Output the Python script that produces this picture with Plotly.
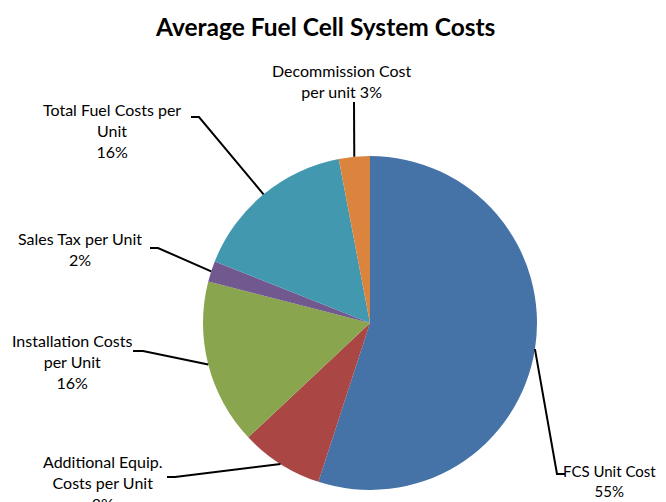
import math
import plotly.graph_objects as go

labels = ["FCS Unit Cost", "Additional Equip. Costs per Unit", "Installation Costs per Unit",
          "Sales Tax per Unit", "Total Fuel Costs per Unit", "Decommission Cost per unit"]
values = [55, 8, 16, 2, 16, 3]
colors = ["#4572A7", "#AA4643", "#89A54E", "#71588F", "#4198AF", "#DB843D"]
label_texts = ["FCS Unit Cost<br>55%", "Additional Equip.<br>Costs per Unit<br>8%",
               "Installation Costs<br>per Unit<br>16%", "Sales Tax per Unit<br>2%",
               "Total Fuel Costs per<br>Unit<br>16%", "Decommission Cost<br>per unit 3%"]

OFF = 8  # page body margin in the browser
W, H = 666 - OFF, 502 - OFF
CX, CY, R = 370, 323, 167

def px(x, y):
    return (x - OFF) / W, 1 - (y - OFF) / H

# label centre positions (window pixels) and leader elbow points
label_pos = [(609, 481), (102, 482), (72, 361), (80, 249), (112, 130), (342, 81)]
label_size = [15, 16, 16, 16, 16, 16]
elbows = [[(557, 474), (565, 474)],
          [(175, 477), (167, 477)],
          [(143, 351), (133, 351)],
          [(158, 248), (150, 248)],
          [(199, 117), (191, 117)],
          [(354, 102)]]

x0, y1 = px(CX - R, CY - R)
x1, y0 = px(CX + R, CY + R)
fig = go.Figure(go.Pie(
    labels=labels, values=values, sort=False, direction="clockwise", rotation=0,
    marker=dict(colors=colors, line=dict(color="white", width=0)),
    textinfo="none", hoverinfo="label+percent",
    domain=dict(x=[x0, x1], y=[y0, y1]),
    showlegend=False,
))

total = sum(values)
cum = 0
shapes = []
annotations = []
for i, v in enumerate(values):
    mid = (cum + v / 2) / total * 2 * math.pi
    cum += v
    sx = CX + R * math.sin(mid)
    sy = CY - R * math.cos(mid)
    pts = [(sx, sy)] + elbows[i]
    path = ""
    for j, (x, y) in enumerate(pts):
        u, w = px(x, y)
        path += ("M" if j == 0 else " L") + f" {u:.5f} {w:.5f}"
    shapes.append(dict(type="path", path=path, xref="paper", yref="paper",
                       line=dict(color="black", width=2)))
    lx, ly = px(*label_pos[i])
    annotations.append(dict(text=label_texts[i], x=lx, y=ly, xref="paper", yref="paper",
                            xanchor="center", yanchor="middle", showarrow=False,
                            align="center",
                            font=dict(family="Lato", size=label_size[i], color="#000000")))

tx, ty = px(325, 26)
annotations.append(dict(text="<b>Average Fuel Cell System Costs</b>", x=tx, y=ty,
                        xref="paper", yref="paper", xanchor="center", yanchor="middle",
                        showarrow=False, font=dict(family="Lato", size=24.5, color="#000000")))

fig.update_layout(width=W, height=H, margin=dict(l=0, r=0, t=0, b=0),
                  paper_bgcolor="white", plot_bgcolor="white",
                  shapes=shapes, annotations=annotations)

fig.write_html("out.html")
